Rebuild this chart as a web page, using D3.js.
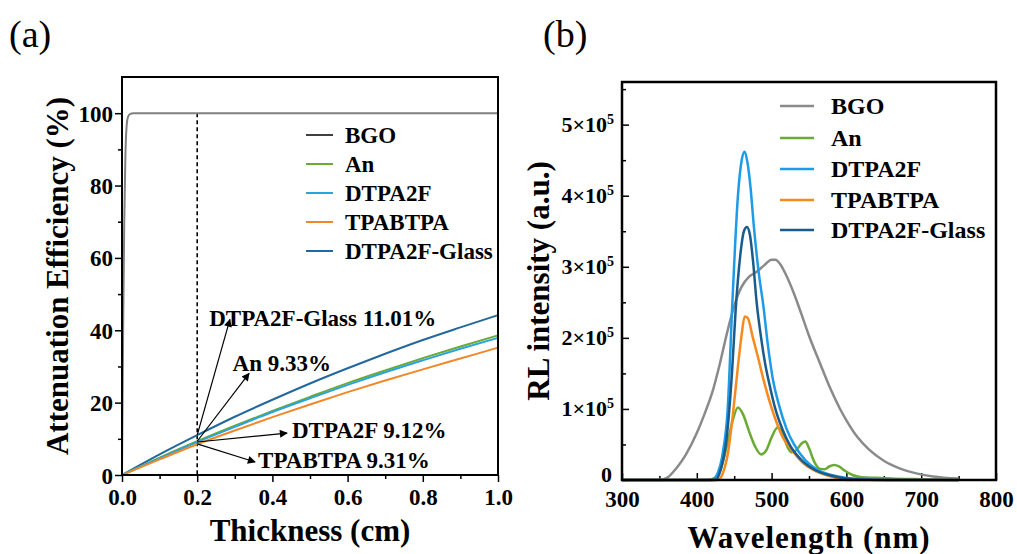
<!DOCTYPE html>
<html>
<head>
<meta charset="utf-8">
<script src="https://cdn.jsdelivr.net/npm/d3@7"></script>
<style>
  body { margin: 0; background: #fff; }
  svg { display: block; font-family: "Liberation Serif", "Times New Roman", serif; }
</style>
</head>
<body>
<div id="chart"></div>
<script>
// ---- panel (a) : attenuation efficiency vs thickness ----
var thickness = [0, 0.1, 0.2, 0.3, 0.4, 0.5, 0.6, 0.7, 0.8, 0.9, 1.0];
var attAn      = [0, 4.8, 9.33, 13.6, 17.7, 21.6, 25.4, 28.9, 32.3, 35.5, 38.6];
var attDTPA2F  = [0, 4.6, 9.12, 13.3, 17.4, 21.2, 24.9, 28.4, 31.7, 34.9, 37.9];
var attTPABTPA = [0, 4.3, 8.5, 12.3, 16.0, 19.5, 22.9, 26.1, 29.2, 32.2, 35.2];
var attGlass   = [0, 5.7, 11.01, 16.1, 20.8, 25.3, 29.5, 33.5, 37.3, 40.8, 44.2];
var bgoThick = [0, 0.003, 0.006, 0.009, 0.012, 0.016, 0.022, 0.03, 1.0];
var bgoAtt   = [0, 40, 70, 88, 96, 99, 99.8, 100, 100];

var seriesNames = ["BGO", "An", "DTPA2F", "TPABTPA", "DTPA2F-Glass"];
var colorsA = ["#808080", "#6aaa35", "#2ba3dc", "#f0882a", "#23689c"];
var legendA = ["#404040", "#6aaa35", "#2ba3dc", "#f0882a", "#23689c"];
var colorsB = ["#8a8a8a", "#6aaa35", "#1e9be6", "#f58a1f", "#1b5b8c"];

var annoText = ["DTPA2F-Glass 11.01%", "An 9.33%", "DTPA2F 9.12%", "TPABTPA 9.31%"];
var annoFrom = [11.01, 9.33, 9.12, 8.6];      // y at 0.2 cm
var annoTipX = [0.287, 0.338, 0.439, 0.354];
var annoTipY = [43, 28.1, 11.6, 3.6];
var annoLabX = [0.232, 0.294, 0.452, 0.362];
var annoLabY = [43.4, 31, 12.4, 4.1];

// ---- panel (b) : RL spectra (intensity in units of 1e5) ----
var bgoWl  = [300, 350, 360, 373, 385, 400, 410, 422, 430, 440, 450, 460, 470, 480, 490, 500, 505, 512, 520, 530, 540, 550, 564, 578, 591, 600, 615, 630, 650, 672, 695, 716, 750];
var bgoInt = [0, 0, 0.03, 0.17, 0.35, 0.66, 0.92, 1.28, 1.6, 2.05, 2.45, 2.72, 2.86, 2.93, 3.02, 3.1, 3.1, 3.03, 2.87, 2.62, 2.33, 2.03, 1.66, 1.3, 1.01, 0.84, 0.6, 0.43, 0.27, 0.16, 0.09, 0.05, 0.02];
var anWl   = [300, 415, 424, 432, 440, 448, 455, 462, 470, 478, 486, 493, 500, 508, 515, 521, 527, 533, 539, 545, 550, 556, 564, 571, 577, 584, 590, 598, 608, 620, 640, 660, 700, 750];
var anInt  = [0, 0, 0.03, 0.15, 0.47, 0.84, 1.02, 0.92, 0.68, 0.47, 0.36, 0.42, 0.6, 0.74, 0.65, 0.47, 0.39, 0.42, 0.5, 0.54, 0.45, 0.28, 0.16, 0.15, 0.19, 0.21, 0.19, 0.13, 0.07, 0.04, 0.03, 0.02, 0.01, 0];
var dtpaWl  = [300, 420, 428, 435, 441, 448, 455, 460, 464, 468, 472, 476, 483, 489, 495, 502, 510, 520, 530, 545, 560, 580, 600, 630, 660, 750];
var dtpaInt = [0, 0, 0.1, 0.4, 0.95, 2.6, 4.0, 4.5, 4.62, 4.45, 4.1, 3.6, 2.9, 2.45, 1.9, 1.4, 1.05, 0.72, 0.5, 0.28, 0.15, 0.07, 0.03, 0.01, 0, 0];
var tpaWl  = [300, 428, 435, 442, 448, 455, 460, 464, 468, 475, 482, 489, 502, 515, 530, 540, 560, 582, 600, 750];
var tpaInt = [0, 0, 0.1, 0.4, 0.9, 1.6, 2.05, 2.3, 2.28, 2.0, 1.72, 1.42, 0.95, 0.6, 0.38, 0.26, 0.12, 0.04, 0, 0];
var glassWl  = [300, 425, 432, 440, 447, 452, 458, 463, 467, 471, 475, 480, 486, 492, 497, 505, 515, 525, 540, 560, 580, 600, 640, 750];
var glassInt = [0, 0, 0.15, 0.6, 1.5, 2.4, 3.15, 3.5, 3.56, 3.45, 3.1, 2.5, 2.0, 1.6, 1.35, 1.0, 0.7, 0.48, 0.28, 0.13, 0.06, 0.02, 0, 0];

var W = 1017, H = 554;
var svg = d3.select("#chart").append("svg").attr("width", W).attr("height", H);

function zip(xs, ys) { return xs.map(function (x, i) { return [x, ys[i]]; }); }
function styleAxis(g) {
  g.attr("font-family", null).attr("font-size", null);
  g.select(".domain").remove();
  g.selectAll("line").attr("stroke-width", 1.5);
  g.selectAll("text").style("font-size", "23px").style("font-weight", "bold").attr("fill", "#000");
}

// ======================= panel (a) =======================
var xa = d3.scaleLinear().domain([0, 1]).range([122, 498]);
var ya = d3.scaleLinear().domain([0, 110]).range([475, 77]);

var ga = svg.append("g");
ga.append("text").attr("x", 9).attr("y", 47).style("font-size", "38px").text("(a)");

// minor ticks
ga.append("g").attr("transform", "translate(0,475)")
  .call(d3.axisBottom(xa).tickValues(d3.range(0.1, 1, 0.2)).tickSize(4).tickFormat(""))
  .call(styleAxis);
ga.append("g").attr("transform", "translate(122,0)")
  .call(d3.axisLeft(ya).tickValues(d3.range(10, 110, 20)).tickSize(4).tickFormat(""))
  .call(styleAxis);

var axA = ga.append("g").attr("transform", "translate(0,475)")
  .call(d3.axisBottom(xa).tickValues([0, 0.2, 0.4, 0.6, 0.8, 1.0]).tickSize(7).tickPadding(5).tickFormat(d3.format(".1f")))
  .call(styleAxis);
var ayA = ga.append("g").attr("transform", "translate(122,0)")
  .call(d3.axisLeft(ya).tickValues([0, 20, 40, 60, 80, 100]).tickSize(7).tickPadding(2).tickFormat(d3.format("d")))
  .call(styleAxis);
axA.selectAll("text").attr("dy", "0.8em");
ayA.selectAll("text").attr("dy", "0.35em");

// dashed line at 0.2 cm
ga.append("line").attr("x1", xa(0.2)).attr("x2", xa(0.2)).attr("y1", ya(100)).attr("y2", ya(0))
  .attr("stroke", "#000").attr("stroke-width", 1.6).attr("stroke-dasharray", "4,3");

var lineA = d3.line().x(function (d) { return xa(d[0]); }).y(function (d) { return ya(d[1]); }).curve(d3.curveMonotoneX);
var dataA = [zip(bgoThick, bgoAtt), zip(thickness, attAn), zip(thickness, attDTPA2F), zip(thickness, attTPABTPA), zip(thickness, attGlass)];
[4, 1, 2, 3, 0].forEach(function (i) {
  ga.append("path").datum(dataA[i]).attr("d", lineA).attr("fill", "none")
    .attr("stroke", colorsA[i]).attr("stroke-width", 2);
});

// arrows + labels
var defs = svg.append("defs");
defs.append("marker").attr("id", "arr").attr("viewBox", "0 0 10 10").attr("refX", 9).attr("refY", 5)
  .attr("markerWidth", 11).attr("markerHeight", 8).attr("markerUnits", "userSpaceOnUse").attr("orient", "auto")
  .append("path").attr("d", "M0,0 L10,5 L0,10 z").attr("fill", "#000");
annoText.forEach(function (t, i) {
  ga.append("line").attr("x1", xa(0.2)).attr("y1", ya(annoFrom[i]))
    .attr("x2", xa(annoTipX[i])).attr("y2", ya(annoTipY[i]))
    .attr("stroke", "#000").attr("stroke-width", 1.2).attr("marker-end", "url(#arr)");
  ga.append("text").attr("x", xa(annoLabX[i])).attr("y", ya(annoLabY[i])).attr("dy", "0.35em")
    .style("font-size", "23px").style("font-weight", "bold").text(t);
});

ga.append("rect").attr("x", 122).attr("y", 77).attr("width", 376).attr("height", 398)
  .attr("fill", "none").attr("stroke", "#000").attr("stroke-width", 2);

// legend a
var legAy = [135, 164, 193, 222, 251];
seriesNames.forEach(function (n, i) {
  ga.append("line").attr("x1", 306).attr("x2", 333).attr("y1", legAy[i]).attr("y2", legAy[i])
    .attr("stroke", legendA[i]).attr("stroke-width", 2);
  ga.append("text").attr("x", 345).attr("y", legAy[i]).attr("dy", "0.35em")
    .style("font-size", "23px").style("font-weight", "bold").text(n);
});

// axis titles a
ga.append("text").attr("x", 310).attr("y", 530).attr("dy", "0.35em").attr("text-anchor", "middle")
  .style("font-size", "31px").style("font-weight", "bold").text("Thickness (cm)");
ga.append("text").attr("transform", "translate(57,276) rotate(-90)").attr("dy", "0.35em").attr("text-anchor", "middle")
  .style("font-size", "31px").style("font-weight", "bold").text("Attenuation Efficiency (%)");

// ======================= panel (b) =======================
var xb = d3.scaleLinear().domain([300, 800]).range([622, 996]);
var yb = d3.scaleLinear().domain([0, 5.6]).range([480, 82]);

var gb = svg.append("g");
gb.append("text").attr("x", 543).attr("y", 47).style("font-size", "38px").text("(b)");

gb.append("g").attr("transform", "translate(0,480)")
  .call(d3.axisBottom(xb).tickValues(d3.range(350, 800, 100)).tickSize(-4).tickFormat(""))
  .call(styleAxis);
gb.append("g").attr("transform", "translate(622,0)")
  .call(d3.axisLeft(yb).tickValues(d3.range(0.5, 5.6, 1)).tickSize(-4).tickFormat(""))
  .call(styleAxis);

var axB = gb.append("g").attr("transform", "translate(0,480)")
  .call(d3.axisBottom(xb).tickValues(d3.range(300, 801, 100)).tickSize(-7).tickPadding(0).tickFormat(d3.format("d")))
  .call(styleAxis);
var ayB = gb.append("g").attr("transform", "translate(622,0)")
  .call(d3.axisLeft(yb).tickValues([0, 1, 2, 3, 4, 5]).tickSize(-7).tickPadding(0).tickFormat(""))
  .call(styleAxis);
axB.selectAll("text").attr("y", 6).attr("dy", "0.9em");
ayB.selectAll("text").attr("x", -8).attr("dy", "0.3em").each(function (d) {
  var t = d3.select(this).style("font-size", "22px");
  if (d === 0) { t.attr("x", -10).attr("dy", "0.05em").text("0"); return; }
  t.append("tspan").text(d + "\u00d710");
  t.append("tspan").attr("dy", "-0.55em").style("font-size", "14px").text("5");
});

var lineB = d3.line().x(function (d) { return xb(d[0]); }).y(function (d) { return yb(d[1]); }).curve(d3.curveMonotoneX);
var dataB = [zip(bgoWl, bgoInt), zip(anWl, anInt), zip(dtpaWl, dtpaInt), zip(tpaWl, tpaInt), zip(glassWl, glassInt)];
[0, 1, 2, 3, 4].forEach(function (i) {
  gb.append("path").datum(dataB[i]).attr("d", lineB).attr("fill", "none")
    .attr("stroke", colorsB[i]).attr("stroke-width", 2.5);
});

gb.append("rect").attr("x", 622).attr("y", 82).attr("width", 374).attr("height", 398)
  .attr("fill", "none").attr("stroke", "#000").attr("stroke-width", 2.5);

var legBy = [106, 138, 169, 200, 230];
seriesNames.forEach(function (n, i) {
  gb.append("line").attr("x1", 780).attr("x2", 814).attr("y1", legBy[i]).attr("y2", legBy[i])
    .attr("stroke", colorsB[i]).attr("stroke-width", 2.5);
  gb.append("text").attr("x", 831).attr("y", legBy[i]).attr("dy", "0.35em")
    .style("font-size", "24px").style("font-weight", "bold").text(n);
});

gb.append("text").attr("x", 809).attr("y", 537).attr("dy", "0.35em").attr("text-anchor", "middle")
  .style("font-size", "31px").style("font-weight", "bold").style("letter-spacing", "1px").text("Wavelength (nm)");
gb.append("text").attr("transform", "translate(538,281) rotate(-90)").attr("dy", "0.35em").attr("text-anchor", "middle")
  .style("font-size", "31px").style("font-weight", "bold").text("RL intensity (a.u.)");
</script>
</body>
</html>
